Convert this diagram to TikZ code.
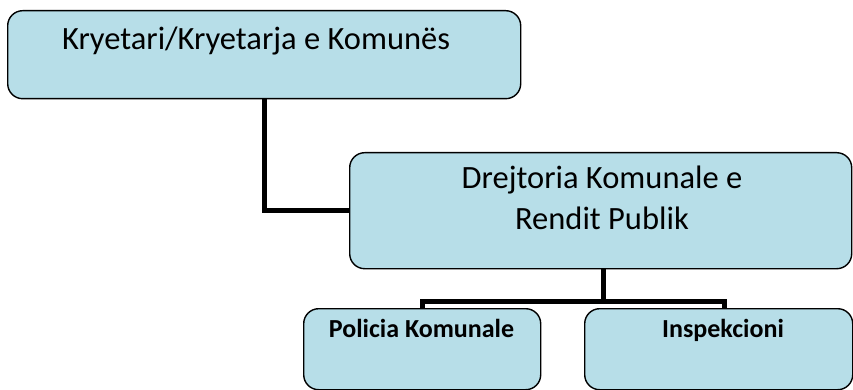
\documentclass[tikz,border=0pt]{standalone}
\usepackage{fontspec}
\setmainfont{Carlito}
\begin{document}
\begin{tikzpicture}[x=1pt,y=-1pt,
  box/.style={draw=black,line width=1.4pt,fill=boxfill,rounded corners=15pt,inner sep=0pt,anchor=north west},
  big/.style={font=\fontsize{32.5}{39}\selectfont,align=center,inner sep=0pt,anchor=base},
  small/.style={font=\fontsize{26}{31}\selectfont\bfseries,inner sep=0pt,anchor=base},
  conn/.style={line width=5pt,draw=black}]
\definecolor{boxfill}{HTML}{B7DEE8}
\useasboundingbox (0,0) rectangle (853,390);
% boxes
\node[box,minimum width=513pt,minimum height=88pt] (b1) at (7,10) {};
\node[box,minimum width=502pt,minimum height=116pt] (b2) at (349,152) {};
\node[box,minimum width=237pt,minimum height=81pt] (b3) at (303,308) {};
\node[box,minimum width=268pt,minimum height=81pt] (b4) at (584,308) {};
% texts
\node[big] (t1) at (256,50) {Kryetari/Kryetarja e Komunës};
\node[big] (t2a) at (602,189) {Drejtoria Komunale e};
\node[big] (t2b) at (602,229) {Rendit Publik};
\node[small] (t3) at (421.5,337) {Policia Komunale};
\node[small] (t4) at (723,337) {Inspekcioni};
% connectors
\draw[conn] (b1.south) |- (b2.west);
\coordinate (j) at ([yshift=-32pt]b2.south);
\draw[conn] ([xshift=3pt]b2.south) -- ([xshift=3pt]j);
\draw[conn] (b3.north) |- (j) -| ([xshift=6pt]b4.north);
\end{tikzpicture}
\end{document}
